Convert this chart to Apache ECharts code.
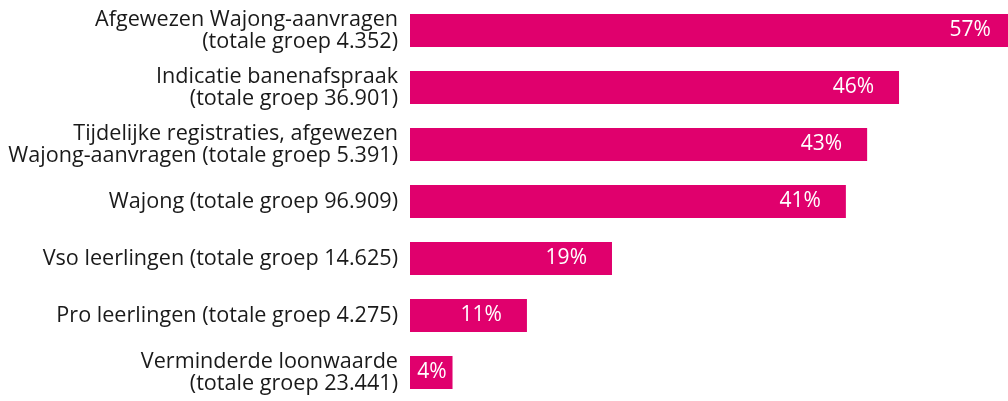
<!DOCTYPE html>
<html>
<head>
<meta charset="utf-8">
<script src="https://cdn.jsdelivr.net/npm/echarts@6/dist/echarts.min.js"></script>
<style>
html,body{margin:0;padding:0;background:#fff;}
#chart{width:1008px;height:401px;}
</style>
</head>
<body>
<div id="chart"></div>
<script>
const categories = [
  "Afgewezen Wajong-aanvragen\n(totale groep 4.352)",
  "Indicatie banenafspraak\n(totale groep 36.901)",
  "Tijdelijke registraties, afgewezen\nWajong-aanvragen (totale groep 5.391)",
  "Wajong (totale groep 96.909)",
  "Vso leerlingen (totale groep 14.625)",
  "Pro leerlingen (totale groep 4.275)",
  "Verminderde loonwaarde\n(totale groep 23.441)"
];
const values = [57, 46, 43, 41, 19, 11, 4];

const FONT = '"Open Sans", "Noto Sans", sans-serif';
const chart = echarts.init(document.getElementById('chart'), null, {renderer: 'canvas'});
chart.setOption({
  animation: false,
  grid: {left: 410, top: 2, right: 0, height: 404},
  xAxis: {type: 'value', min: 0, max: 56.25, show: false},
  yAxis: {
    type: 'category', data: categories, inverse: true,
    axisLine: {show: false}, axisTick: {show: false},
    axisLabel: {color: '#1a1a1a', fontSize: 21.6, fontFamily: FONT, lineHeight: 22, margin: 12, align: 'right'}
  },
  series: [{
    type: 'bar',
    clip: false,
    barWidth: 33,
    itemStyle: {color: '#e0006d'},
    data: values.map(v => ({
      value: v,
      label: {distance: v < 5 ? 6 : 25}
    })),
    label: {
      show: true, position: 'insideRight', color: '#fff',
      fontSize: 21, fontFamily: FONT,
      formatter: p => p.value + '%'
    }
  }]
});
</script>
</body>
</html>
